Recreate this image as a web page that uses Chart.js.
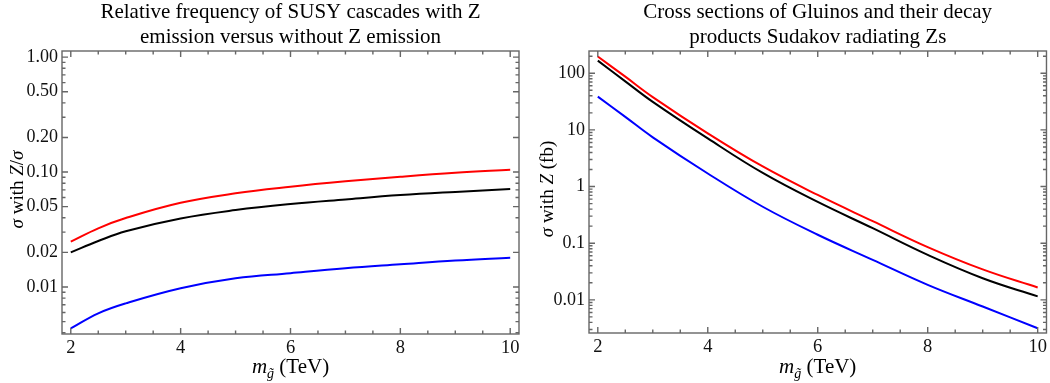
<!DOCTYPE html>
<html>
<head>
<meta charset="utf-8">
<script src="https://cdn.jsdelivr.net/npm/chart.js@4.4.0/dist/chart.umd.min.js"></script>
<style>
  html, body { margin: 0; padding: 0; background: #fff; }
  #wrap { display: flex; width: 1050px; height: 383px; }
  canvas { display: block; }
</style>
</head>
<body>
<div id="wrap">
  <canvas id="ratioChart" width="525" height="383"></canvas>
  <canvas id="xsecChart" width="525" height="383"></canvas>
</div>
<script>
// gluino mass (TeV)
const massTeV = [2, 2.5, 3, 4, 5, 6, 7, 8, 9, 10];

// left panel : sigma with Z / sigma
const ratioRed   = [0.0248, 0.0324, 0.0398, 0.054, 0.0653, 0.0745, 0.083, 0.091, 0.0986, 0.1047];
const ratioBlack = [0.0200, 0.0251, 0.0306, 0.0395, 0.0467, 0.0527, 0.0578, 0.0630, 0.0672, 0.0711];
const ratioBlue  = [0.00436, 0.0059, 0.0072, 0.00975, 0.0119, 0.0132, 0.01456, 0.01575, 0.0170, 0.0180];

// right panel : sigma with Z (fb)
const xsecRed   = [197, 87, 38, 8.7, 2.26, 0.71, 0.245, 0.0855, 0.0345, 0.0165];
const xsecBlack = [167, 72, 31.3, 7.08, 1.74, 0.535, 0.184, 0.0622, 0.0241, 0.0115];
const xsecBlue  = [38.7, 17, 7.4, 1.7, 0.44, 0.141, 0.0508, 0.0184, 0.00762, 0.00316];

// tick values
const massTicks = [2, 4, 6, 8, 10];
const ratioTicks = [0.01, 0.02, 0.05, 0.1, 0.2, 0.5, 1];
const xsecTicks = [0.01, 0.1, 1, 10, 100];

const SERIF = '"Liberation Serif", "DejaVu Serif", serif';

function pts(arr) {
    return massTeV.map((m, i) => ({ x: m, y: arr[i] }));
}

function line(arr, color) {
    return {
        data: pts(arr),
        borderColor: color,
        borderWidth: 2,
        pointRadius: 0,
        fill: false,
        tension: 0.4
    };
}

// minor ticks of a log axis (1..9 x decade), skipping the labelled ones
function logMinors(min, max, majors) {
    const out = [];
    for (let e = -4; e <= 3; e++) {
        for (let k = 1; k <= 9; k++) {
            const v = k * Math.pow(10, e);
            if (v >= min && v <= max && !majors.some(m => Math.abs(m - v) / v < 1e-6)) out.push(v);
        }
    }
    return out;
}

// text with mixed fonts, centred on (cx, baseline cy)
function drawRich(ctx, parts, cx, cy, angle) {
    ctx.save();
    ctx.translate(cx, cy);
    ctx.rotate(angle);
    ctx.textBaseline = 'alphabetic';
    ctx.fillStyle = '#000';
    let total = 0;
    parts.forEach(p => { ctx.font = p.font; total += ctx.measureText(p.text).width; });
    let pos = -total / 2;
    parts.forEach(p => {
        ctx.font = p.font;
        ctx.fillText(p.text, pos, p.dy || 0);
        pos += ctx.measureText(p.text).width;
    });
    ctx.restore();
}

const IT = 'italic 19px ' + SERIF;
const RM = '19px ' + SERIF;
const massLabel = [
    { text: 'm', font: 'italic 21px ' + SERIF },
    { text: 'g\u0303', font: 'italic 14px ' + SERIF, dy: 5 },
    { text: ' (TeV)', font: '21px ' + SERIF }
];

// Mathematica style frame : ticks pointing inwards on all four sides
function framePlugin(cfg) {
    return {
        id: 'frame',
        afterDraw(chart) {
            const { ctx, chartArea: a, scales: { x, y } } = chart;
            ctx.save();
            ctx.strokeStyle = '#666';
            ctx.lineWidth = 1.4;
            ctx.strokeRect(a.left, a.top, a.right - a.left, a.bottom - a.top);

            ctx.beginPath();
            const xTick = (v, len) => {
                const px = x.getPixelForValue(v);
                ctx.moveTo(px, a.bottom); ctx.lineTo(px, a.bottom - len);
                ctx.moveTo(px, a.top); ctx.lineTo(px, a.top + len);
            };
            const yTick = (v, len) => {
                const py = y.getPixelForValue(v);
                ctx.moveTo(a.left, py); ctx.lineTo(a.left + len, py);
                ctx.moveTo(a.right, py); ctx.lineTo(a.right - len, py);
            };
            massTicks.forEach(v => xTick(v, 6));
            for (let v = 2.5; v < 10; v += 0.5) {
                if (!massTicks.includes(v)) xTick(v, 3.5);
            }
            cfg.yMajor.forEach(v => yTick(v, 6));
            logMinors(y.min, y.max, cfg.yMajor).forEach(v => yTick(v, 3.5));
            ctx.stroke();

            drawRich(ctx, massLabel, (a.left + a.right) / 2, 373, 0);
            drawRich(ctx, cfg.yLabel, cfg.yLabelX, (a.top + a.bottom) / 2 - 3, -Math.PI / 2);
            ctx.restore();
        }
    };
}

function makeChart(id, series, opt) {
    const ctx = document.getElementById(id).getContext('2d');
    return new Chart(ctx, {
        type: 'line',
        data: {
            datasets: [
                line(series[0], '#ff0000'),
                line(series[1], '#000000'),
                line(series[2], '#0000ff')
            ]
        },
        options: {
            responsive: false,
            animation: false,
            layout: { padding: { left: 0, right: opt.padRight, top: 0, bottom: 0 } },
            plugins: {
                legend: { display: false },
                tooltip: { enabled: false },
                title: {
                    display: true,
                    text: opt.title,
                    fullSize: false,
                    color: '#000',
                    font: { family: SERIF, size: 21, weight: 'normal', lineHeight: 1.2 },
                    padding: { top: 0, bottom: 0.6 }
                }
            },
            scales: {
                x: {
                    type: 'linear',
                    min: 1.84,
                    max: 10.16,
                    grid: { display: false, drawTicks: false },
                    border: { display: false },
                    afterBuildTicks: s => { s.ticks = massTicks.map(v => ({ value: v })); },
                    afterFit: s => { s.height = opt.xHeight; },
                    ticks: {
                        padding: 3,
                        color: '#111',
                        font: { family: SERIF, size: 18.5 },
                        callback: v => String(v)
                    }
                },
                y: {
                    type: 'logarithmic',
                    min: opt.yMin,
                    max: opt.yMax,
                    grid: { display: false, drawTicks: false },
                    border: { display: false },
                    afterBuildTicks: s => { s.ticks = opt.yTicks.map(v => ({ value: v })); },
                    afterFit: s => { s.width = opt.yWidth; },
                    ticks: {
                        padding: 4,
                        color: '#111',
                        font: { family: SERIF, size: 18 },
                        callback: opt.yFormat
                    }
                }
            }
        },
        plugins: [framePlugin({ yMajor: opt.yTicks, yLabel: opt.yLabel, yLabelX: opt.yLabelX })]
    });
}

makeChart('ratioChart', [ratioRed, ratioBlack, ratioBlue], {
    title: ['Relative frequency of SUSY cascades with Z', 'emission versus without Z emission'],
    yMin: 0.0039,
    yMax: 1.13,
    yTicks: ratioTicks,
    yFormat: v => Number(v).toFixed(2),
    yWidth: 62,
    xHeight: 49,
    padRight: 6,
    yLabelX: 23,
    yLabel: [
        { text: '\u03c3', font: IT },
        { text: ' with ', font: RM },
        { text: 'Z', font: IT },
        { text: '/', font: RM },
        { text: '\u03c3', font: IT }
    ]
});

makeChart('xsecChart', [xsecRed, xsecBlack, xsecBlue], {
    title: ['Cross sections of Gluinos and their decay', 'products Sudakov radiating Zs'],
    yMin: 0.0026,
    yMax: 247,
    yTicks: xsecTicks,
    yFormat: v => String(v),
    yWidth: 64,
    xHeight: 50,
    padRight: 3,
    yLabelX: 28,
    yLabel: [
        { text: '\u03c3', font: IT },
        { text: ' with ', font: RM },
        { text: 'Z', font: IT },
        { text: ' (fb)', font: RM }
    ]
});
</script>
</body>
</html>
